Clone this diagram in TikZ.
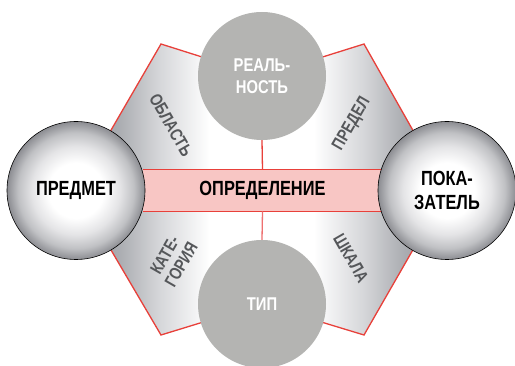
\documentclass[tikz,border=0pt]{standalone}
\usepackage{fontspec}
\setmainfont{Liberation Sans}[FakeStretch=0.8]
\usepackage{tikz}
\usetikzlibrary{shadings}

\definecolor{linered}{RGB}{232,64,58}
\definecolor{palered}{RGB}{238,112,112}
\definecolor{bandpink}{RGB}{248,198,196}
\definecolor{flatgray}{RGB}{180,180,178}
\definecolor{labelgray}{RGB}{85,87,90}
\definecolor{secdark}{RGB}{142,144,150}
\definecolor{secmid}{RGB}{172,174,179}
\definecolor{seclight}{RGB}{212,213,216}
\definecolor{sphedge}{RGB}{140,141,146}
\definecolor{sphmid}{RGB}{192,193,196}
\definecolor{sphlight}{RGB}{228,228,230}

\pgfdeclarehorizontalshading{sector}{100bp}{color(0bp)=(secdark); color(25bp)=(secdark);
  color(31bp)=(secmid); color(36bp)=(seclight); color(43bp)=(white); color(57bp)=(white);
  color(64bp)=(seclight); color(69bp)=(secmid); color(75bp)=(secdark); color(100bp)=(secdark)}
\pgfdeclareradialshading{sphere}{\pgfpoint{0bp}{0bp}}{color(0bp)=(white); color(10bp)=(white);
  color(16bp)=(sphlight); color(21bp)=(sphmid); color(25bp)=(sphedge); color(50bp)=(sphedge)}

\begin{document}
\begin{tikzpicture}[x=1pt, y=-1pt,
    redline/.style={draw=linered, line width=1.3pt},
    sidecirc/.style={circle, draw=black, line width=0.6pt, shading=sphere, minimum size=138pt,
      inner sep=0pt, align=center, font=\bfseries\fontsize{20.5}{24}\selectfont},
    flatcirc/.style={circle, fill=flatgray, minimum size=128pt, inner sep=0pt, align=center,
      text=white, font=\bfseries\fontsize{18.5}{22}\selectfont},
    seclabel/.style={text=labelgray, align=center, inner sep=0pt,
      font=\bfseries\fontsize{17.5}{19}\selectfont}]
    \useasboundingbox (0,0) rectangle (515,366);

    % 圆心与六边形顶点
    \coordinate (cL) at (76,190.5);
    \coordinate (cR) at (447,190.5);
    \coordinate (cT) at (262,76);
    \coordinate (cB) at (262,304);
    \coordinate (vA) at (161,44);
    \coordinate (vB) at (364,44);
    \coordinate (vC) at (364,335);
    \coordinate (vD) at (161,335);

    % 灰色渐变六边形
    \path[shading=sector] (cL) -- (vA) -- (cT) -- (vB) -- (cR) -- (vC) -- (cB) -- (vD) -- cycle;
    \draw[redline, line join=miter] (cL) -- (vA) -- (cT) -- (vB) -- (cR) -- (vC) -- (cB) -- (vD) -- cycle;

    % 中间横条
    \node[fill=bandpink, minimum width=239pt, minimum height=41.5pt, inner sep=0pt,
      font=\bfseries\fontsize{20.5}{24}\selectfont] (defn) at (262.5,190.5) {ОПРЕДЕЛЕНИЕ};
    \draw[redline] (defn.north west) -- (defn.north east);
    \draw[redline] (defn.south west) -- (defn.south east);

    % 斜放的标签
    \node[seclabel, rotate=-60] (area) at (171,125) {ОБЛАСТЬ};
    \node[seclabel, rotate=60] (limit) at (352,124) {ПРЕДЕЛ};
    \node[seclabel, rotate=60] (categ) at (173,260) {КАТЕ-\\ГОРИЯ};
    \node[seclabel, rotate=-60] (scale) at (351,258) {ШКАЛА};

    % 四个圆
    \node[flatcirc] (real) at (cT) {РЕАЛЬ-\\НОСТЬ};
    \node[flatcirc] (type) at (cB) {ТИП};
    \node[sidecirc] (subj) at (cL) {ПРЕДМЕТ};
    \node[sidecirc] (index) at (cR) {ПОКА-\\ЗАТЕЛЬ};

    % 竖线
    \draw[redline] (real.south) -- (defn.north);
    \draw[draw=palered, line width=1.3pt] (defn.south) -- (type.north);
\end{tikzpicture}
\end{document}
